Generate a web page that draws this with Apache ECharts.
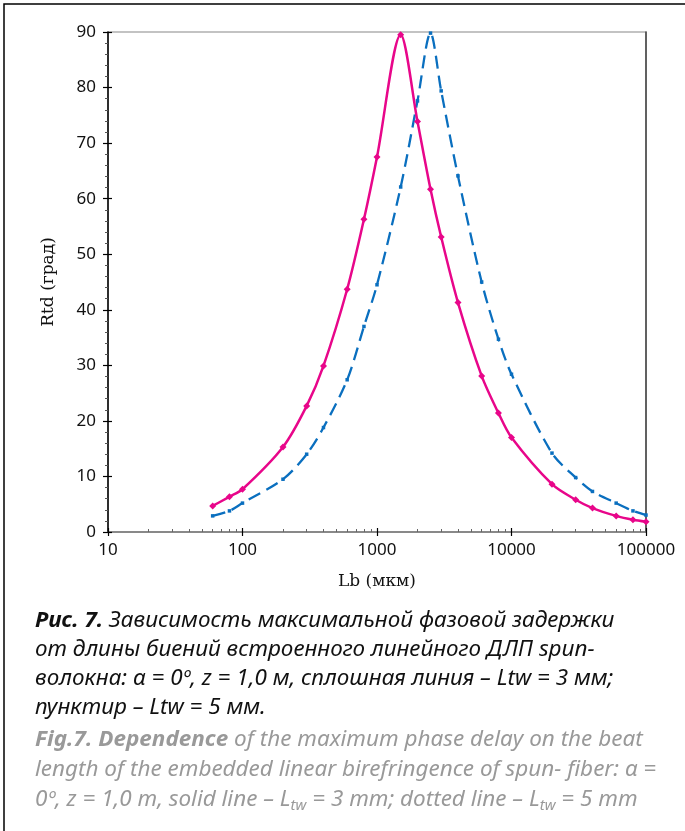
<!DOCTYPE html>
<html><head><meta charset="utf-8">
<script src="https://cdn.jsdelivr.net/npm/echarts@6/dist/echarts.min.js"></script>
<style>html,body{margin:0;padding:0;background:#fff}#c{width:685px;height:831px}</style>
</head><body><div id="c"></div>
<script>
const xTicks = [10, 100, 1000, 10000, 100000];
const xMinorTicks = [20,30,40,50,60,70,80,90,200,300,400,500,600,700,800,900,2000,3000,4000,5000,6000,7000,8000,9000,20000,30000,40000,50000,60000,70000,80000,90000];
const lbPink  = [60, 80, 100, 200, 300, 400, 600, 800, 1000, 1500, 2000, 2500, 3000, 4000, 6000, 8000, 10000, 20000, 30000, 40000, 60000, 80000, 100000];
const rtdPink = [4.7, 6.35, 7.7, 15.3, 22.7, 29.9, 43.7, 56.3, 67.5, 89.5, 73.9, 61.7, 53.1, 41.3, 28.1, 21.4, 17.0, 8.6, 5.8, 4.3, 2.9, 2.2, 1.85];
const lbBlue  = [60, 80, 100, 200, 300, 400, 600, 800, 1000, 1500, 2000, 2500, 3000, 4000, 6000, 8000, 10000, 20000, 30000, 40000, 60000, 80000, 100000];
const rtdBlue = [2.9, 3.8, 5.2, 9.5, 14.0, 18.8, 27.4, 37.0, 44.5, 62.1, 77.6, 89.8, 79.4, 64.1, 45.0, 34.7, 28.4, 14.2, 9.8, 7.3, 5.2, 3.8, 3.05];
const captionRu = [
  '{b|Рис. 7.} Зависимость максимальной фазовой задержки',
  'от длины биений встроенного линейного ДЛП spun-',
  'волокна: α = 0º, z = 1,0 м, сплошная линия – Ltw = 3 мм;',
  'пунктир – Ltw = 5 мм.'
];
const captionEn = [
  '{b|Fig.7. Dependence} of the maximum phase delay on the beat',
  'length of the embedded linear birefringence of spun- fiber: α =',
  '0º, z = 1,0 m, solid line – L{s|tw} = 3 mm; dotted line – L{s|tw} = 5 mm'
];

const pair = (xs, ys) => xs.map((x, i) => [x, ys[i]]);
const chart = echarts.init(document.getElementById('c'), null, {renderer: 'canvas'});
const tickFont = {fontFamily: 'Noto Sans', fontSize: 17, color: '#111'};
const capStyle = (text, y, color) => ({
  type: 'text', left: 35, top: y, scaleX: 1.07, z: 10,
  style: {
    text: text, fill: color, font: 'italic 21px "Noto Sans"',
    rich: {
      b: {fontFamily: 'Noto Sans', fontStyle: 'italic', fontWeight: 'bold', fontSize: 21, fill: color},
      s: {fontFamily: 'Noto Sans', fontStyle: 'italic', fontSize: 14, fill: color, padding: [12, 0, 0, 0]}
    }
  }
});
const graphics = [
  {type: 'rect', shape: {x: 4, y: 4, width: 760, height: 900}, style: {fill: 'none', stroke: '#000', lineWidth: 1.5}, z: 0}
];
captionRu.forEach((t, i) => graphics.push(capStyle(t, 611 + i * 29, '#111')));
captionEn.forEach((t, i) => graphics.push(capStyle(t, 730 + i * 30, '#999')));

chart.setOption({
  animation: false,
  backgroundColor: '#fff',
  grid: {left: 108, right: 39, top: 32, bottom: 299, show: true, borderColor: '#888', borderWidth: 1.2, backgroundColor: 'transparent'},
  xAxis: [
    {type: 'log', logBase: 10, min: 10, max: 100000, position: 'bottom',
     name: 'Lb (мкм)', nameLocation: 'middle', nameGap: 41,
     nameTextStyle: {fontFamily: 'DejaVu Serif', fontSize: 17, color: '#111'},
     axisLine: {show: true, lineStyle: {color: '#777', width: 1.5}},
     axisTick: {show: true, inside: false, length: 4, lineStyle: {color: '#000', width: 1.2}},
     axisLabel: Object.assign({margin: 10, customValues: xTicks, formatter: v => String(Math.round(v))}, tickFont),
     splitLine: {show: false}},
    {type: 'log', logBase: 10, min: 10, max: 100000, position: 'bottom',
     axisLine: {show: false},
     axisTick: {show: true, inside: true, length: 4, lineStyle: {color: '#000', width: 1.2}},
     axisLabel: {show: false}, splitLine: {show: false}},
    {type: 'log', logBase: 10, min: 10, max: 100000, position: 'bottom',
     axisLine: {show: false},
     axisTick: {show: true, inside: true, length: 3, customValues: xMinorTicks, lineStyle: {color: '#666', width: 1}},
     axisLabel: {show: false}, splitLine: {show: false}}
  ],
  yAxis: [
    {type: 'value', min: 0, max: 90, interval: 10, position: 'left',
     name: 'Rtd (град)', nameLocation: 'middle', nameGap: 51, nameRotate: 90,
     nameTextStyle: {fontFamily: 'DejaVu Serif', fontSize: 17, color: '#111'},
     axisLine: {show: true, lineStyle: {color: '#000', width: 1.5}},
     axisTick: {show: true, inside: false, length: 5, lineStyle: {color: '#000', width: 1.2}},
     minorTick: {show: true, splitNumber: 5, length: 3, lineStyle: {color: '#555', width: 1}},
     axisLabel: Object.assign({margin: 12}, tickFont),
     splitLine: {show: false}, minorSplitLine: {show: false}},
    {type: 'value', min: 0, max: 90, interval: 10, position: 'left',
     axisLine: {show: false},
     axisTick: {show: true, inside: true, length: 4, lineStyle: {color: '#000', width: 1.2}},
     axisLabel: {show: false}, splitLine: {show: false}},
    {type: 'value', min: 0, max: 90, interval: 10, position: 'right',
     axisLine: {show: true, lineStyle: {color: '#444', width: 1.5}},
     axisTick: {show: false}, axisLabel: {show: false}, splitLine: {show: false}}
  ],
  graphic: graphics,
  series: [
    {name: 'Ltw = 5 мм', type: 'line', data: pair(lbBlue, rtdBlue), smooth: 0.3,
     symbol: 'rect', symbolSize: 3.5, itemStyle: {color: '#0A6FBF'},
     lineStyle: {color: '#0A6FBF', width: 2.3, type: [13, 7]}, z: 3},
    {name: 'Ltw = 3 мм', type: 'line', data: pair(lbPink, rtdPink), smooth: 0.3,
     symbol: 'diamond', symbolSize: 7, itemStyle: {color: '#E8068A'},
     lineStyle: {color: '#E8068A', width: 2.5}, z: 4}
  ]
});
</script></body></html>
